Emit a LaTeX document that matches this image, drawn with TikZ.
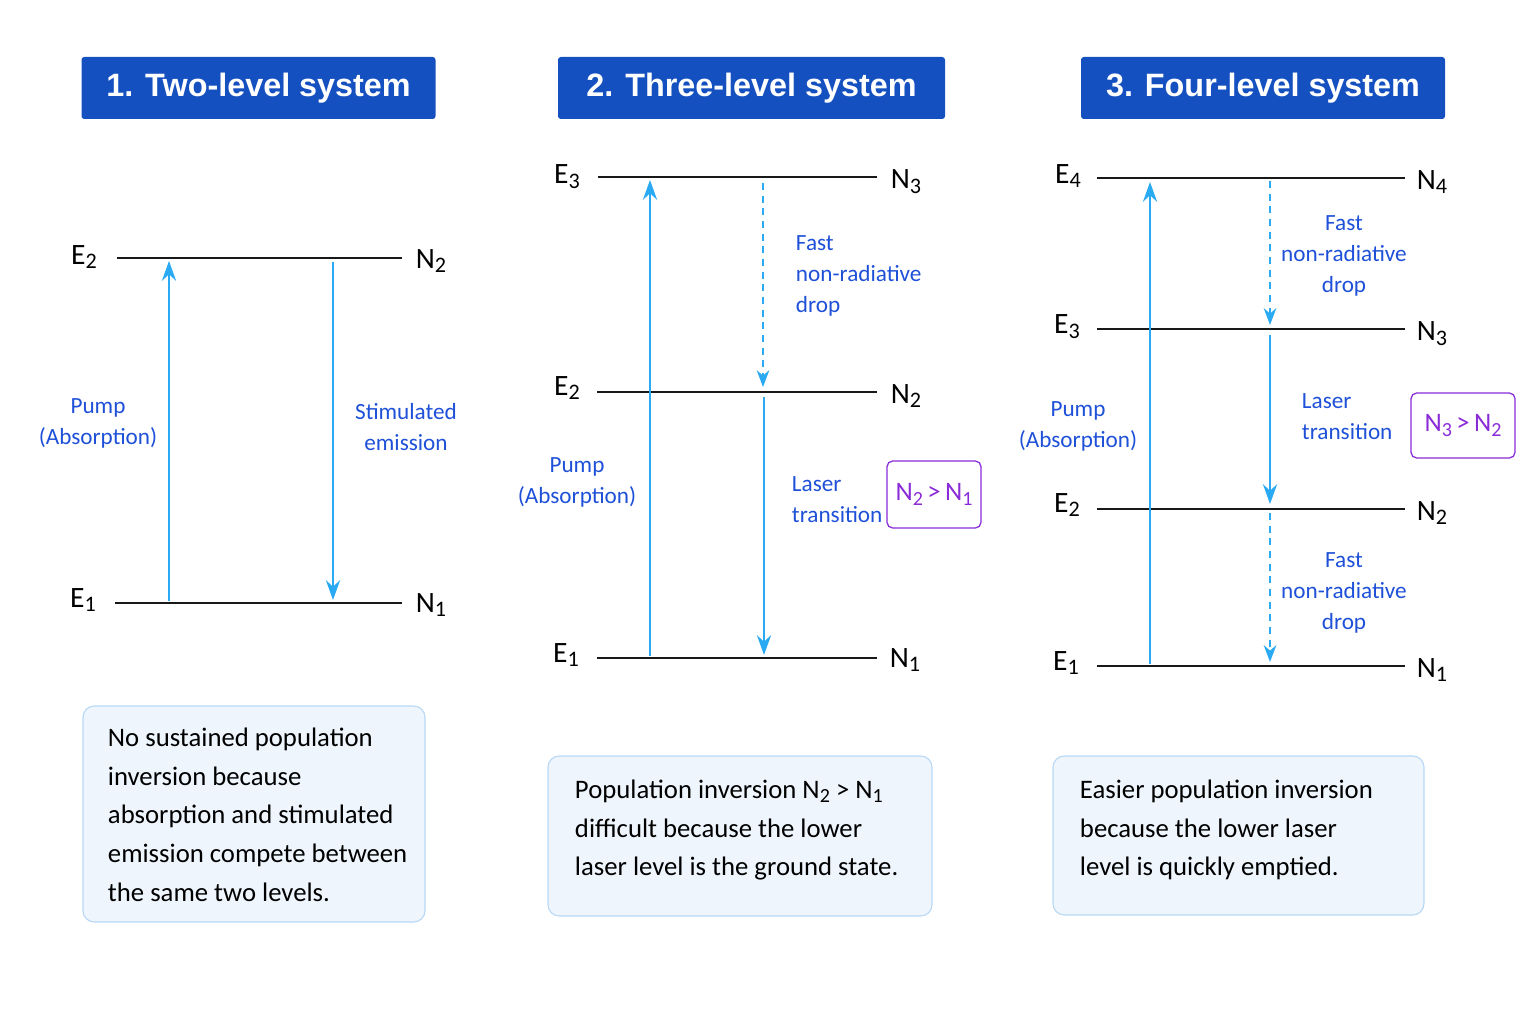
\documentclass[tikz,border=0pt]{standalone}
\usepackage{fontspec}
\setmainfont{Carlito}
\newfontfamily\titlefont{Liberation Sans}
\usetikzlibrary{arrows.meta}
\newcommand{\lsub}[1]{\raisebox{-0.35ex}{\scalebox{0.75}{#1}}}
\definecolor{tblue}{HTML}{1550C0}
\definecolor{arr}{HTML}{2AAAF2}
\definecolor{lab}{HTML}{1E50D8}
\definecolor{purp}{HTML}{8A2BD8}
\definecolor{boxf}{HTML}{EEF5FD}
\definecolor{boxd}{HTML}{B8D8F4}
\begin{document}
\begin{tikzpicture}[x=0.025cm,y=-0.025cm,
 title/.style={fill=tblue,rounded corners=2pt,text=white,font=\titlefont\bfseries\fontsize{23}{26}\selectfont,inner sep=0pt},
 lvl/.style={line width=2pt,black!90},
 el/.style={font=\fontsize{21}{22}\selectfont},
 up/.style={arr,line width=1.8pt,-{Stealth[length=14pt,width=10pt]}},
 dn/.style={arr,line width=1.3pt,dashed,dash pattern=on 5pt off 4pt,-{Stealth[length=12pt,width=9pt]}},
 lb/.style={lab,font=\fontsize{16.5}{22}\selectfont,align=center},
 lbl/.style={lab,font=\fontsize{16.5}{22}\selectfont,align=left},
 ineq/.style={draw=purp,text=purp,rounded corners=4pt,line width=0.9pt,font=\fontsize{19}{22}\selectfont,inner sep=0pt},
 note/.style={draw=boxd,fill=boxf,rounded corners=8pt,line width=0.8pt,inner sep=0pt},
 nt/.style={font=\fontsize{19}{27.5}\selectfont,align=left,anchor=north west}]
\useasboundingbox (0,0) rectangle (1536,1024);
% titles
\node[title,minimum width=354*0.025cm,minimum height=62*0.025cm] (t1) at (258.5,88) {1. Two-level system};
\node[title,minimum width=387*0.025cm,minimum height=62*0.025cm] (t2) at (751.5,88) {2. Three-level system};
\node[title,minimum width=364*0.025cm,minimum height=62*0.025cm] (t3) at (1263,88) {3. Four-level system};
% panel 1
\coordinate (a2l) at (117,258); \coordinate (a2r) at (402,258);
\coordinate (a1l) at (115,603); \coordinate (a1r) at (402,603);
\draw[lvl] (a2l)--(a2r); \draw[lvl] (a1l)--(a1r);
\node[el] (ae2) at (84,257) {E\lsub{2}}; \node[el] (an2) at (431,261) {N\lsub{2}};
\node[el] (ae1) at (83,600) {E\lsub{1}}; \node[el] (an1) at (431,605) {N\lsub{1}};
\coordinate (p1a) at (169,601); \coordinate (p1b) at (169,261);
\draw[up] (p1a)--(p1b);
\coordinate (s1a) at (333,262); \coordinate (s1b) at (333,600);
\draw[up] (s1a)--(s1b);
\node[lb] (pl1) at (98,423) {Pump\\(Absorption)};
\node[lb] (sl1) at (406,427) {Stimulated\\emission};
\node[note,minimum width=342*0.025cm,minimum height=216*0.025cm] (b1) at (254,814) {};
\node[nt] (b1t) at (103,723) {No sustained population\\inversion because\\absorption and stimulated\\emission compete between\\the same two levels.};
% panel 2
\coordinate (b3l) at (598,177); \coordinate (b3r) at (877,177);
\coordinate (b2l) at (597,392); \coordinate (b2r) at (877,392);
\coordinate (b1l) at (597,658); \coordinate (b1r) at (877,658);
\draw[lvl] (b3l)--(b3r); \draw[lvl] (b2l)--(b2r); \draw[lvl] (b1l)--(b1r);
\node[el] (be3) at (567,177) {E\lsub{3}}; \node[el] (bn3) at (906,182) {N\lsub{3}};
\node[el] (be2) at (567,388) {E\lsub{2}}; \node[el] (bn2) at (906,396) {N\lsub{2}};
\node[el] (be1) at (566,655) {E\lsub{1}}; \node[el] (bn1) at (905,660) {N\lsub{1}};
\coordinate (p2a) at (650,656); \coordinate (p2b) at (650,180);
\draw[up] (p2a)--(p2b);
\coordinate (d2a) at (763,183); \coordinate (d2b) at (763,387);
\draw[dn] (d2a)--(d2b);
\coordinate (l2a) at (764,397); \coordinate (l2b) at (764,655);
\draw[up] (l2a)--(l2b);
\node[lbl,anchor=west] (f2) at (791,276) {Fast\\non-radiative\\drop};
\node[lb] (pl2) at (577,482) {Pump\\(Absorption)};
\node[lbl,anchor=west] (lt2) at (787,500) {Laser\\transition};
\node[ineq,minimum width=94*0.025cm,minimum height=67*0.025cm] (q2) at (934,494.5) {N\lsub{2}\,>\,N\lsub{1}};
\node[note,minimum width=384*0.025cm,minimum height=160*0.025cm] (b2) at (740,836) {};
\node[nt] (b2t) at (570,775) {Population inversion N\lsub{2} > N\lsub{1}\\difficult because the lower\\laser level is the ground state.};
% panel 3
\coordinate (c4l) at (1097,178); \coordinate (c4r) at (1405,178);
\coordinate (c3l) at (1097,329); \coordinate (c3r) at (1405,329);
\coordinate (c2l) at (1097,509); \coordinate (c2r) at (1405,509);
\coordinate (c1l) at (1097,666); \coordinate (c1r) at (1405,666);
\foreach \k in {4,3,2,1} \draw[lvl] (c\k l)--(c\k r);
\node[el] (ce4) at (1068,176) {E\lsub{4}}; \node[el] (cn4) at (1432,182) {N\lsub{4}};
\node[el] (ce3) at (1067,327) {E\lsub{3}}; \node[el] (cn3) at (1432,334) {N\lsub{3}};
\node[el] (ce2) at (1067,505) {E\lsub{2}}; \node[el] (cn2) at (1432,513) {N\lsub{2}};
\node[el] (ce1) at (1066,663) {E\lsub{1}}; \node[el] (cn1) at (1432,670) {N\lsub{1}};
\coordinate (p3a) at (1150,664); \coordinate (p3b) at (1150,182);
\draw[up] (p3a)--(p3b);
\coordinate (d3a) at (1270,181); \coordinate (d3b) at (1270,325);
\draw[dn] (d3a)--(d3b);
\coordinate (l3a) at (1270,335); \coordinate (l3b) at (1270,504);
\draw[up] (l3a)--(l3b);
\coordinate (e3a) at (1270,513); \coordinate (e3b) at (1270,662);
\draw[dn] (e3a)--(e3b);
\node[lb] (f3a) at (1344,256) {Fast\\non-radiative\\drop};
\node[lb] (f3b) at (1344,593) {Fast\\non-radiative\\drop};
\node[lbl,anchor=west] (lt3) at (1297,417) {Laser\\transition};
\node[lb] (pl3) at (1078,426) {Pump\\(Absorption)};
\node[ineq,minimum width=104*0.025cm,minimum height=65*0.025cm] (q3) at (1463,425.5) {N\lsub{3}\,>\,N\lsub{2}};
\node[note,minimum width=371*0.025cm,minimum height=159*0.025cm] (b3) at (1238.5,835.5) {};
\node[nt] (b3t) at (1075,775) {Easier population inversion\\because the lower laser\\level is quickly emptied.};
\end{tikzpicture}
\end{document}
